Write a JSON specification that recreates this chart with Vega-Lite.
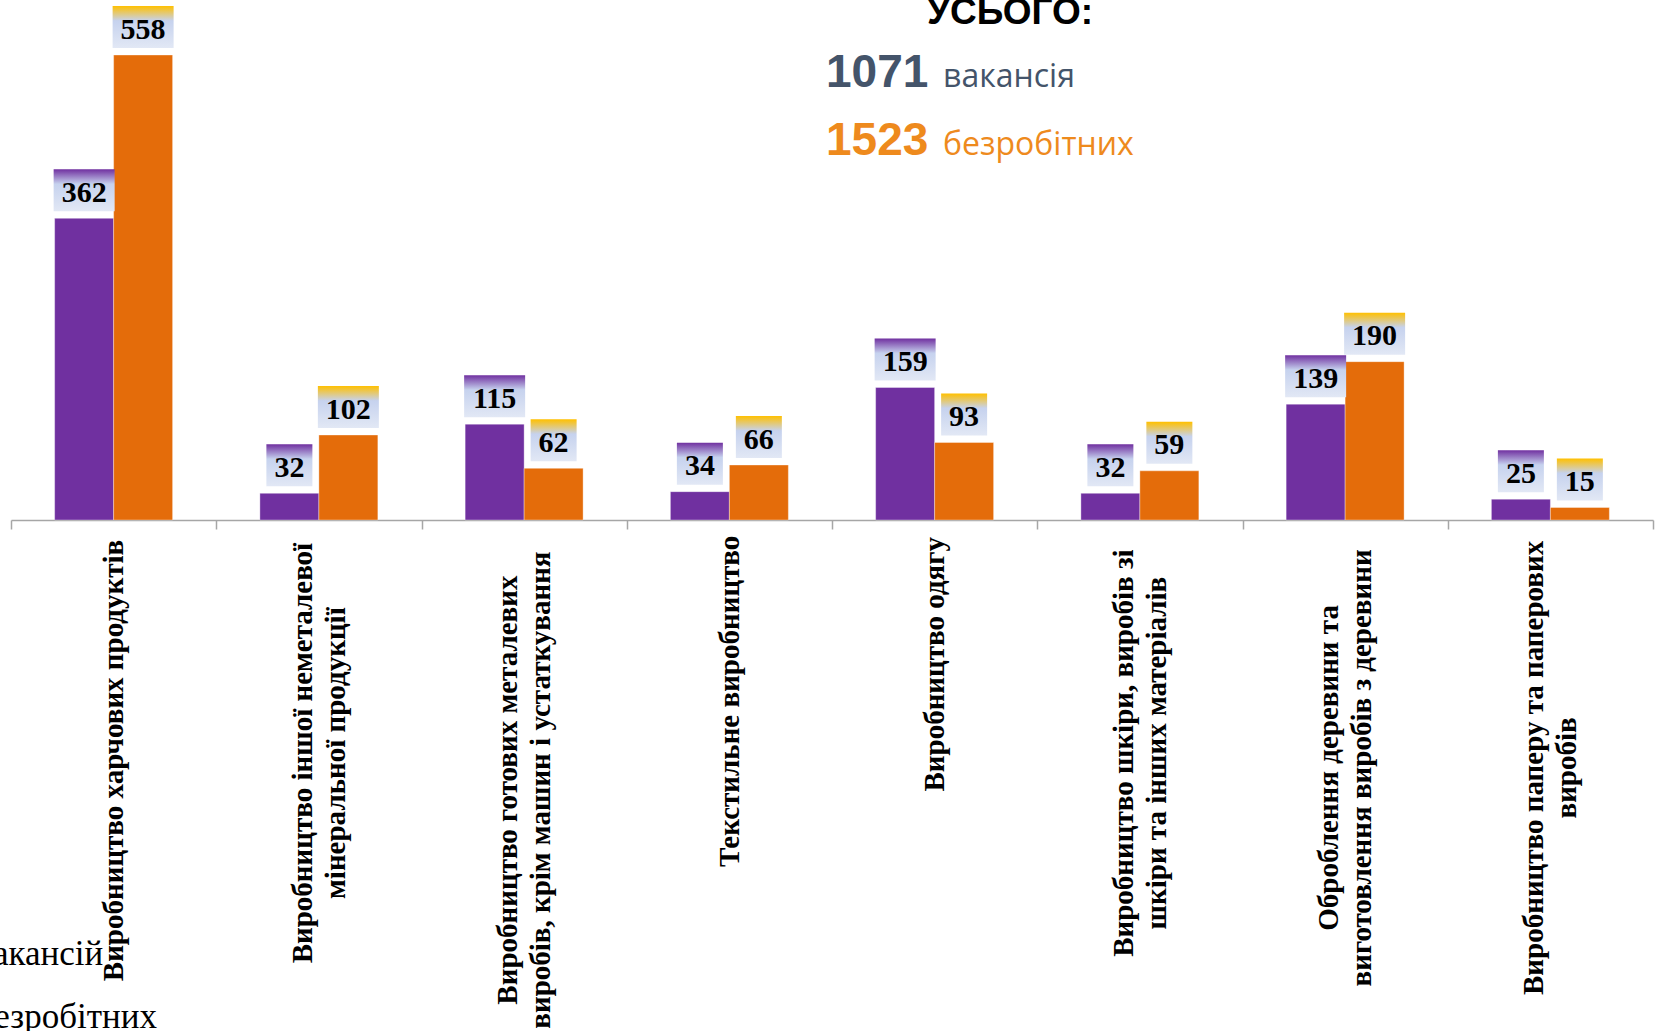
{
  "$schema": "https://vega.github.io/schema/vega-lite/v6.json",
  "autosize": "none",
  "padding": {"left": 11, "top": 0, "right": 2, "bottom": 511},
  "width": 1642,
  "height": 520,
  "background": "white",
  "config": {"view": {"stroke": null}},
  "datasets": {
    "jobs": [
      {"category": "Виробництво харчових продуктів", "series": "вакансій", "value": 362},
      {"category": "Виробництво харчових продуктів", "series": "безробітних", "value": 558},
      {"category": "Виробництво іншої неметалевої\nмінеральної продукції", "series": "вакансій", "value": 32},
      {"category": "Виробництво іншої неметалевої\nмінеральної продукції", "series": "безробітних", "value": 102},
      {"category": "Виробництво готових металевих\nвиробів, крім машин і устаткування", "series": "вакансій", "value": 115},
      {"category": "Виробництво готових металевих\nвиробів, крім машин і устаткування", "series": "безробітних", "value": 62},
      {"category": "Текстильне виробництво", "series": "вакансій", "value": 34},
      {"category": "Текстильне виробництво", "series": "безробітних", "value": 66},
      {"category": "Виробництво одягу", "series": "вакансій", "value": 159},
      {"category": "Виробництво одягу", "series": "безробітних", "value": 93},
      {"category": "Виробництво шкіри, виробів зі\nшкіри та інших матеріалів", "series": "вакансій", "value": 32},
      {"category": "Виробництво шкіри, виробів зі\nшкіри та інших матеріалів", "series": "безробітних", "value": 59},
      {"category": "Оброблення деревини та\nвиготовлення виробів з деревини", "series": "вакансій", "value": 139},
      {"category": "Оброблення деревини та\nвиготовлення виробів з деревини", "series": "безробітних", "value": 190},
      {"category": "Виробництво паперу та паперових\nвиробів", "series": "вакансій", "value": 25},
      {"category": "Виробництво паперу та паперових\nвиробів", "series": "безробітних", "value": 15}
    ],
    "totals": [
      {"label": "вакансія", "total": 1071},
      {"label": "безробітних", "total": 1523}
    ],
    "heading": [
      {"text": "УСЬОГО:"}
    ]
  },
  "layer": [
    {
      "data": {"name": "jobs"},
      "mark": {"type": "bar", "stroke": "#ffffff", "strokeOpacity": 0.35, "strokeWidth": 1},
      "encoding": {
        "x": {
          "field": "category", "type": "nominal", "sort": null,
          "scale": {"paddingInner": 0, "paddingOuter": 0},
          "axis": {
            "title": null,
            "labelAngle": -90,
            "labelAlign": "center",
            "labelBaseline": "middle",
            "labelFont": "Liberation Serif",
            "labelFontWeight": "bold",
            "labelFontSize": 29,
            "labelColor": "#000000",
            "labelLimit": 0,
            "labelOverlap": false,
            "labelPadding": {"expr": "9 + 7.4 * max(length(split(datum.label, '\\n')[0]), length(peek(split(datum.label, '\\n'))))"},
            "labelOffset": {"expr": "-16.5 * (length(split(datum.label, '\\n')) - 1)"},
            "labelLineHeight": 33,
            "labelExpr": "split(datum.label, '\\n')",
            "tickBand": "extent",
            "tickSize": 9,
            "tickColor": "#A6A6A6",
            "tickWidth": 1.5,
            "domainColor": "#A6A6A6",
            "domainWidth": 1.5,
            "grid": false
          }
        },
        "xOffset": {"field": "series", "type": "nominal", "sort": ["вакансій", "безробітних"], "scale": {"paddingInner": 0, "paddingOuter": 0.74}},
        "y": {"field": "value", "type": "quantitative", "stack": null, "scale": {"domain": [0, 624], "nice": false}, "axis": null},
        "color": {
          "field": "series", "type": "nominal",
          "scale": {"domain": ["вакансій", "безробітних"], "range": ["#7030A0", "#E46C0A"]},
          "legend": {
            "orient": "none",
            "legendX": -79,
            "legendY": 936,
            "title": null,
            "direction": "vertical",
            "padding": 0,
            "labelFont": "Liberation Serif",
            "labelFontSize": 35,
            "labelColor": "#000000",
            "labelLimit": 0,
            "labelOffset": 10,
            "symbolType": "square",
            "symbolSize": 400,
            "symbolStrokeWidth": 0,
            "rowPadding": 27
          }
        }
      }
    },
    {
      "data": {"name": "jobs"},
      "transform": [{"filter": "datum.value >= 100"}],
      "mark": {"type": "bar", "width": 61, "yOffset": -49, "y2Offset": -7},
      "encoding": {
        "x": {"field": "category", "type": "nominal", "sort": null},
        "xOffset": {"field": "series", "type": "nominal", "sort": ["вакансій", "безробітних"]},
        "y": {"field": "value", "type": "quantitative"},
        "y2": {"field": "value"},
        "color": {
          "condition": {
            "test": "datum.series === 'вакансій'",
            "value": {"gradient": "linear", "x1": 0, "y1": 0, "x2": 0, "y2": 1,
              "stops": [{"offset": 0, "color": "#7030A0"}, {"offset": 0.35, "color": "#C6D2EE"}, {"offset": 1, "color": "#E2E8F5"}]}
          },
          "value": {"gradient": "linear", "x1": 0, "y1": 0, "x2": 0, "y2": 1,
            "stops": [{"offset": 0, "color": "#FFC000"}, {"offset": 0.35, "color": "#C6D2EE"}, {"offset": 1, "color": "#E2E8F5"}]}
        }
      }
    },
    {
      "data": {"name": "jobs"},
      "transform": [{"filter": "datum.value < 100"}],
      "mark": {"type": "bar", "width": 46, "yOffset": -49, "y2Offset": -7},
      "encoding": {
        "x": {"field": "category", "type": "nominal", "sort": null},
        "xOffset": {"field": "series", "type": "nominal", "sort": ["вакансій", "безробітних"]},
        "y": {"field": "value", "type": "quantitative"},
        "y2": {"field": "value"},
        "color": {
          "condition": {
            "test": "datum.series === 'вакансій'",
            "value": {"gradient": "linear", "x1": 0, "y1": 0, "x2": 0, "y2": 1,
              "stops": [{"offset": 0, "color": "#7030A0"}, {"offset": 0.35, "color": "#C6D2EE"}, {"offset": 1, "color": "#E2E8F5"}]}
          },
          "value": {"gradient": "linear", "x1": 0, "y1": 0, "x2": 0, "y2": 1,
            "stops": [{"offset": 0, "color": "#FFC000"}, {"offset": 0.35, "color": "#C6D2EE"}, {"offset": 1, "color": "#E2E8F5"}]}
        }
      }
    },
    {
      "data": {"name": "jobs"},
      "mark": {"type": "text", "font": "Liberation Serif", "fontWeight": "bold", "fontSize": 30, "baseline": "alphabetic", "align": "center", "dy": -16.5, "color": "#000000"},
      "encoding": {
        "x": {"field": "category", "type": "nominal", "sort": null},
        "xOffset": {"field": "series", "type": "nominal", "sort": ["вакансій", "безробітних"]},
        "y": {"field": "value", "type": "quantitative"},
        "text": {"field": "value", "type": "quantitative"}
      }
    },
    {
      "data": {"name": "heading"},
      "mark": {"type": "text", "font": "Liberation Sans", "fontWeight": "bold", "fontSize": 37, "align": "center", "baseline": "alphabetic", "dx": 178, "color": "#000000"},
      "encoding": {
        "x": {"datum": "Виробництво одягу", "type": "nominal", "bandPosition": 0},
        "y": {"datum": 595, "type": "quantitative"},
        "text": {"field": "text", "type": "nominal"}
      }
    },
    {
      "data": {"name": "totals"},
      "transform": [{"filter": "datum.label === 'вакансія'"}],
      "layer": [
        {
          "mark": {"type": "text", "font": "Liberation Sans", "fontWeight": "bold", "fontSize": 46, "align": "left", "baseline": "alphabetic", "dx": -6, "color": "#44546A"},
          "encoding": {
            "x": {"datum": "Виробництво одягу", "type": "nominal", "bandPosition": 0},
            "y": {"datum": 520, "type": "quantitative"},
            "text": {"field": "total", "type": "quantitative"}
          }
        },
        {
          "mark": {"type": "text", "font": "Open Sans", "fontSize": 32, "align": "left", "baseline": "alphabetic", "dx": 111, "color": "#44546A"},
          "encoding": {
            "x": {"datum": "Виробництво одягу", "type": "nominal", "bandPosition": 0},
            "y": {"datum": 520, "type": "quantitative"},
            "text": {"field": "label", "type": "nominal"}
          }
        }
      ]
    },
    {
      "data": {"name": "totals"},
      "transform": [{"filter": "datum.label === 'безробітних'"}],
      "layer": [
        {
          "mark": {"type": "text", "font": "Liberation Sans", "fontWeight": "bold", "fontSize": 46, "align": "left", "baseline": "alphabetic", "dx": -6, "color": "#EE8A1D"},
          "encoding": {
            "x": {"datum": "Виробництво одягу", "type": "nominal", "bandPosition": 0},
            "y": {"datum": 438, "type": "quantitative"},
            "text": {"field": "total", "type": "quantitative"}
          }
        },
        {
          "mark": {"type": "text", "font": "Open Sans", "fontSize": 32, "align": "left", "baseline": "alphabetic", "dx": 111, "color": "#EE8A1D"},
          "encoding": {
            "x": {"datum": "Виробництво одягу", "type": "nominal", "bandPosition": 0},
            "y": {"datum": 438, "type": "quantitative"},
            "text": {"field": "label", "type": "nominal"}
          }
        }
      ]
    }
  ]
}
